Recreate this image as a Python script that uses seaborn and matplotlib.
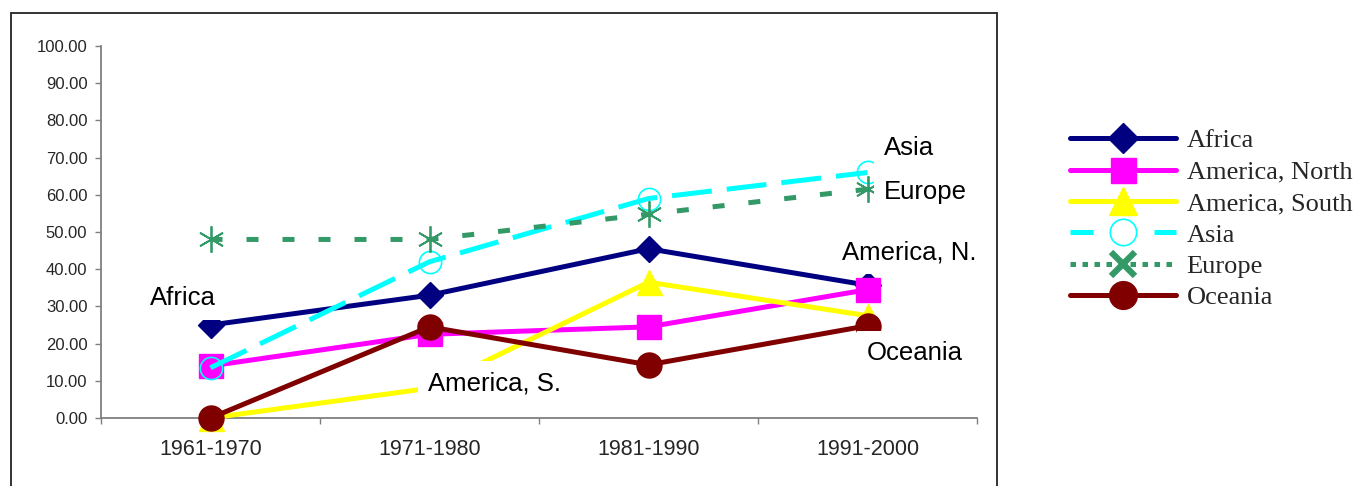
import numpy as np
import pandas as pd
import matplotlib
matplotlib.use("Agg")
import matplotlib.pyplot as plt
import seaborn as sns
from matplotlib.lines import Line2D
from matplotlib.patches import Rectangle
from matplotlib.ticker import FixedLocator, FormatStrFormatter

# ---- data -------------------------------------------------------------
periods = ["1961-1970", "1971-1980", "1981-1990", "1991-2000"]
regions = ["Africa", "America, North", "America, South", "Asia", "Europe", "Oceania"]

africa = [25.0, 33.0, 45.5, 35.7]
america_north = [14.0, 22.5, 24.5, 34.5]
america_south = [0.0, 8.0, 36.5, 27.5]
asia = [13.5, 42.0, 59.0, 66.0]
europe = [48.0, 48.0, 54.8, 61.5]
oceania = [0.0, 24.5, 14.3, 24.8]

series_values = [africa, america_north, america_south, asia, europe, oceania]

# text labels placed beside the series
label_texts = ["Africa", "America, S.", "America, N.", "Asia", "Europe", "Oceania"]
label_x = [-0.276, 0.993, 2.884, 3.075, 3.075, 2.998]
label_y = [32.2, 9.4, 44.6, 72.6, 60.8, 17.5]

# ---- styles -------------------------------------------------------------
LW = 3.6
styles = {
    "Africa": dict(color="#000080", marker="D", ms=13.5, mfc="#000080", mec="#000080",
                   ls="-"),
    "America, North": dict(color="#FF00FF", marker="s", ms=17, mfc="#FF00FF",
                           mec="#FF00FF", ls="-"),
    "America, South": dict(color="#FFFF00", marker="^", ms=18, mfc="#FFFF00",
                           mec="#FFFF00", ls="-"),
    "Asia": dict(color="#00FFFF", marker="o", ms=16, mfc="none", mec="#00FFFF",
                 ls=(0, (8, 3)), mew=1.2),
    "Europe": dict(color="#339966", marker=(6, 2, 0), ms=19, mfc="#339966",
                   mec="#339966", ls=(0, (2.4, 4.8)), mew=1.3),
    "Oceania": dict(color="#800000", marker="o", ms=18, mfc="#800000",
                    mec="#800000", ls="-"),
}

df = pd.DataFrame({
    "period": np.tile(periods, len(regions)),
    "region": np.repeat(regions, len(periods)),
    "value": np.concatenate(series_values),
})

sns.set_style("white")
plt.rcParams["font.family"] = ["Liberation Sans", "DejaVu Sans"]

fig = plt.figure(figsize=(13.58, 4.86), dpi=100)
ax = fig.add_axes([101 / 1358, 68 / 486, 876 / 1358, 372 / 486])

for z, name in enumerate(regions):
    st = styles[name]
    sub = df[df["region"] == name]
    sns.lineplot(data=sub, x="period", y="value", ax=ax, color=st["color"],
                 linewidth=LW, linestyle=st["ls"], marker=st["marker"],
                 markersize=st["ms"], markerfacecolor=st["mfc"],
                 markeredgecolor=st["mec"], markeredgewidth=st.get("mew", 1.0),
                 legend=False, clip_on=False, zorder=3 + z, sort=False)

# annotations with white background
for t, x, y in zip(label_texts, label_x, label_y):
    ax.text(x, y, t, ha="left", va="center", fontsize=18.5, color="black",
            zorder=20, clip_on=False,
            bbox=dict(boxstyle="square,pad=0.4", facecolor="white", edgecolor="none"))

# ---- axes ----------------------------------------------------------------
ax.set_xlim(-0.5, 3.5)
ax.set_ylim(0, 100)
ax.set_xlabel("")
ax.set_ylabel("")
for s in ["top", "right"]:
    ax.spines[s].set_visible(False)
for s in ["left", "bottom"]:
    ax.spines[s].set_color("#7f7f7f")
    ax.spines[s].set_linewidth(1.3)

ax.yaxis.set_major_locator(FixedLocator(np.arange(0, 101, 10)))
ax.yaxis.set_major_formatter(FormatStrFormatter("%.2f"))
ax.tick_params(axis="y", direction="out", length=4.3, width=1.0, color="#7f7f7f",
               labelsize=12, pad=5.5, left=True)

ax.set_xticks(range(len(periods)))
ax.set_xticklabels(periods)
ax.set_xticks([-0.5, 0.5, 1.5, 2.5, 3.5], minor=True)
ax.tick_params(axis="x", which="major", length=0, labelsize=15.5, pad=15)
ax.tick_params(axis="x", which="minor", direction="out", length=4.3, width=1.0,
               color="#7f7f7f", bottom=True)
ax.grid(False)

# ---- legend ----------------------------------------------------------------
leg_handles = [
    Line2D([], [], color="#000080", lw=LW, marker="D", ms=15, mfc="#000080", mec="#000080"),
    Line2D([], [], color="#FF00FF", lw=LW, marker="s", ms=18, mfc="#FF00FF", mec="#FF00FF"),
    Line2D([], [], color="#FFFF00", lw=LW, marker="^", ms=20, mfc="#FFFF00", mec="#FFFF00"),
    Line2D([], [], color="#00FFFF", lw=LW, ls=(0, (4.6, 12.2)), marker="o", ms=19,
           mfc="white", mec="#00FFFF", mew=1.2),
    Line2D([], [], color="#339966", lw=LW, ls=(0, (1.1, 1.3)), marker="x", ms=17,
           mec="#339966", mew=4.5),
    Line2D([], [], color="#800000", lw=LW, marker="o", ms=20, mfc="#800000", mec="#800000"),
]
fig.legend(leg_handles, regions, loc="upper left",
           bbox_to_anchor=(1070 / 1358, 1 - 129 / 486), frameon=False,
           prop={"family": ["Liberation Serif", "DejaVu Serif"], "size": 19},
           handlelength=4.0, handletextpad=0.42, labelspacing=0.3,
           borderpad=0, borderaxespad=0)

# chart frame
fig.patches.append(Rectangle((11 / 1358, -0.02), 986 / 1358, 1 - 13 / 486 + 0.02,
                             transform=fig.transFigure, fill=False,
                             edgecolor="#222222", linewidth=1.3))

fig.savefig("out.png", dpi=100)
